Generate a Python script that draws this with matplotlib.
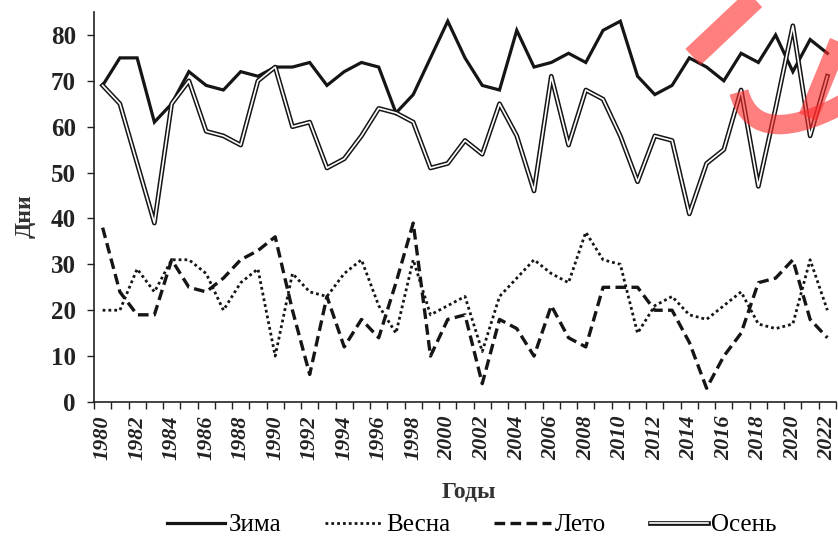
import matplotlib
matplotlib.use("Agg")
import matplotlib.pyplot as plt
import matplotlib.patheffects as pe
from matplotlib.lines import Line2D
from matplotlib.path import Path
from matplotlib.patches import PathPatch
from matplotlib.ticker import FixedLocator

plt.rcParams["font.family"] = ["Liberation Serif", "DejaVu Serif"]

# Продолжительность сезонов, дни
anos = list(range(1980, 2023))

zima = [69, 75, 75, 61, 65, 72, 69, 68, 72, 71, 73, 73, 74, 69, 72, 74, 73, 63,
        67, 75, 83, 75, 69, 68, 81, 73, 74, 76, 74, 81, 83, 71, 67, 69, 75, 73,
        70, 76, 74, 80, 72, 79, 76]
vesna = [20, 20, 29, 24, 31, 31, 28, 20, 26, 29, 10, 28, 24, 23, 28, 31, 21, 15,
         31, 19, 21, 23, 11, 23, 27, 31, 28, 26, 37, 31, 30, 15, 21, 23, 19, 18,
         21, 24, 17, 16, 17, 31, 20]
leto = [38, 24, 19, 19, 31, 25, 24, 27, 31, 33, 36, 20, 6, 23, 12, 18, 14, 26,
        39, 10, 18, 19, 4, 18, 16, 10, 21, 14, 12, 25, 25, 25, 20, 20, 13, 3,
        10, 15, 26, 27, 31, 18, 14]
osen = [69, 65, 52, 39, 65, 70, 59, 58, 56, 70, 73, 60, 61, 51, 53, 58, 64, 63,
        61, 51, 52, 57, 54, 65, 58, 46, 71, 56, 68, 66, 58, 48, 58, 57, 41, 52,
        55, 68, 47, 64, 82, 58, 71]

rotulos_y = [0, 10, 20, 30, 40, 50, 60, 70, 80]

W, H = 838, 540
fig = plt.figure(figsize=(W / 100, H / 100), dpi=100)
ax = fig.add_axes([94 / W, 1 - 402 / H, 742 / W, 390 / H])


def px(xp, yp):
    return (xp / W, 1 - yp / H)


x = list(range(len(anos)))
cor = "#151515"

ax.plot(x, zima, color=cor, lw=2.3, label="Зима", solid_joinstyle="miter")
ax.plot(x, vesna, color=cor, lw=2.0, linestyle=(0, (1, 1.1)), label="Весна")
ax.plot(x, leto, color=cor, lw=2.4, linestyle=(0, (3.2, 1.6)), label="Лето")
ax.plot(x, osen, color="white", lw=1.2, label="Осень",
        path_effects=[pe.Stroke(linewidth=3.4, foreground=cor), pe.Normal()])

ax.set_xlim(-0.5, len(anos) - 0.5)
ax.set_ylim(0, 85)

ax.spines["top"].set_visible(False)
ax.spines["right"].set_visible(False)
for lado in ("left", "bottom"):
    ax.spines[lado].set_color("#222222")
    ax.spines[lado].set_linewidth(1.2)

ax.set_yticks(rotulos_y)
ax.set_yticklabels([str(v) for v in rotulos_y], fontsize=18, fontweight="bold",
                   color="#333333")
ax.tick_params(axis="y", length=5, width=1, pad=8, colors="#222222")

# подписи через год, риски между категориями
ax.set_xticks(x[::2])
ax.set_xticklabels([str(a) for a in anos[::2]], rotation=90, fontsize=16,
                   fontweight="bold", fontstyle="italic", color="#222222")
ax.xaxis.set_minor_locator(FixedLocator([i - 0.5 for i in range(len(anos) + 1)]))
ax.tick_params(axis="x", which="major", length=0, pad=10)
ax.tick_params(axis="x", which="minor", length=5, width=1, colors="#222222")

fig.text(*px(25, 216), "Дни", rotation=90, ha="center", va="center",
         fontsize=17, fontweight="bold", color="#333333")
fig.text(*px(469, 493), "Годы", ha="center", va="center",
         fontsize=17, fontweight="bold", color="#333333")

fig.legend(loc="center", bbox_to_anchor=px(472, 525), ncol=4,
           frameon=False, handlelength=2.3, handletextpad=0.15,
           columnspacing=1.75, prop={"size": 18})

# красный знак в правом верхнем углу
vermelho = dict(color="#ff2a2a", alpha=0.6, solid_capstyle="butt",
                transform=fig.transFigure)
p1, p2 = px(693, 57), px(762, -8)
fig.add_artist(Line2D([p1[0], p2[0]], [p1[1], p2[1]], lw=16, **vermelho))
p1, p2 = px(808, 117), px(850, 15)
fig.add_artist(Line2D([p1[0], p2[0]], [p1[1], p2[1]], lw=14, **vermelho))
arco = Path([px(739, 92), px(750, 134), px(790, 134), px(850, 100)],
            [Path.MOVETO, Path.CURVE4, Path.CURVE4, Path.CURVE4])
fig.add_artist(PathPatch(arco, fill=False, edgecolor="#ff2a2a", alpha=0.6,
                         lw=14, capstyle="butt", transform=fig.transFigure))

fig.savefig("out.png", dpi=100)
